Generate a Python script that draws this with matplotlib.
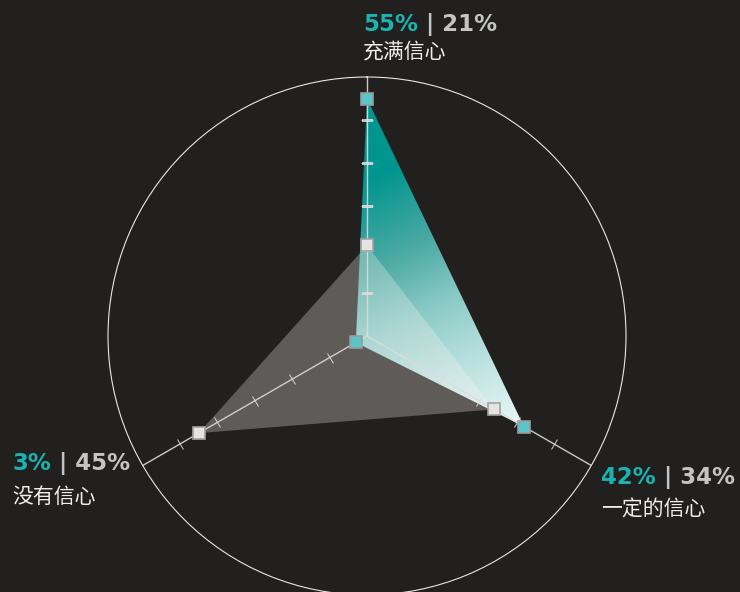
"""Radar chart: confidence levels, teal vs gray series."""

import numpy as np
import matplotlib
matplotlib.use("Agg")
import matplotlib.pyplot as plt
from matplotlib.colors import LinearSegmentedColormap
from matplotlib.image import AxesImage
from matplotlib.markers import MarkerStyle
from matplotlib.transforms import Affine2D


CATEGORIES = ["充满信心", "一定的信心", "没有信心"]
TEAL_VALUES = [55, 42, 3]
GRAY_VALUES = [21, 34, 45]
RADIAL_MAX = 60
TICK_VALUES = [10, 20, 30, 40, 50]

WIDTH, HEIGHT = 740, 592
BACKGROUND = "#21201f"
TEAL_TEXT = "#1bb3b2"
GRAY_TEXT = "#c4c4c4"
NAME_TEXT = "#eeeeee"
SPOKE = "#dcdcdc"
# x, value-row baseline, name-row baseline (pixels from top-left)
LABEL_ANCHORS = [(363, 31, 58), (601, 484, 516), (12, 470, 503)]


def fig_xy(x, y):
    return x / WIDTH, 1 - y / HEIGHT


def add_gradient(ax, angles, patch):
    # linear gradient running from the top vertex to the lower-right vertex
    to_axes = ax.transAxes.inverted()
    start = to_axes.transform(ax.transData.transform((angles[0], TEAL_VALUES[0])))
    end = to_axes.transform(ax.transData.transform((angles[1], TEAL_VALUES[1])))
    u, v = np.meshgrid(np.linspace(0, 1, 600), np.linspace(0, 1, 600))
    d = end - start
    t = ((u - start[0]) * d[0] + (v - start[1]) * d[1]) / (d @ d)
    cmap = LinearSegmentedColormap.from_list("teal_fade", [
        (0.0, "#00968f"),
        (0.2, "#00958f"),
        (0.42, "#4aa9a3"),
        (0.6, "#8ccbc7"),
        (0.77, "#b8e0de"),
        (0.95, "#e0f2f2"),
        (1.0, "#e8f6f6"),
    ])
    image = AxesImage(ax, cmap=cmap, origin="lower", extent=(0, 1, 0, 1),
                      interpolation="bilinear", zorder=2)
    image.set_transform(ax.transAxes)
    image.set_data(np.clip(t, 0, 1))
    image.set_clim(0, 1)
    ax.add_image(image)
    image.set_clip_path(patch)


def main():
    fig = plt.figure(figsize=(WIDTH / 100, HEIGHT / 100), dpi=100,
                     facecolor=BACKGROUND)
    cx, cy, radius = 367, 336, 259
    ax = fig.add_axes([(cx - radius) / WIDTH, (HEIGHT - cy - radius) / HEIGHT,
                       2 * radius / WIDTH, 2 * radius / HEIGHT],
                      projection="polar")
    ax.set_facecolor("none")
    ax.set_theta_zero_location("N")
    ax.set_theta_direction(-1)
    ax.set_ylim(0, RADIAL_MAX)
    ax.set_xticks([])
    ax.set_yticks([])
    ax.grid(False)
    ax.spines["polar"].set_color("#e6e6e6")
    ax.spines["polar"].set_linewidth(0.8)

    angles = np.arange(len(CATEGORIES)) * 2 * np.pi / len(CATEGORIES)

    teal_patch, = ax.fill(angles, TEAL_VALUES, facecolor="none",
                          edgecolor="none")
    add_gradient(ax, angles, teal_patch)
    ax.fill(angles, GRAY_VALUES, facecolor=(1.0, 0.96, 0.95), alpha=0.28,
            edgecolor="none", zorder=3)

    for angle in angles:
        ax.plot([angle, angle], [0, RADIAL_MAX], color=SPOKE, lw=1.0,
                alpha=0.9, zorder=4)
        tick = MarkerStyle(
            "_", transform=Affine2D().rotate_deg(180 - np.degrees(angle))
        )
        ax.plot(np.full(len(TICK_VALUES), angle), TICK_VALUES, linestyle="none",
                marker=tick, markersize=8, markeredgewidth=0.75,
                color=SPOKE, alpha=0.9, zorder=4)

    ax.plot(angles, GRAY_VALUES, linestyle="none", marker="s", markersize=9,
            markerfacecolor="#e4e4e4", markeredgecolor="#a3a3a3",
            markeredgewidth=1.2, zorder=5, clip_on=False)
    ax.plot(angles, TEAL_VALUES, linestyle="none", marker="s", markersize=9,
            markerfacecolor="#5ac6cb", markeredgecolor="#9a9a9a",
            markeredgewidth=1.2, zorder=5, clip_on=False)

    for name, teal, gray, (x, y_value, y_name) in zip(
        CATEGORIES, TEAL_VALUES, GRAY_VALUES, LABEL_ANCHORS
    ):
        first = fig.text(*fig_xy(x, y_value), f"{teal}%", color=TEAL_TEXT,
                         fontsize=16.5, fontweight="bold",
                         family="DejaVu Sans", va="baseline", ha="left")
        ax.annotate(f" | {gray}%", xy=(1, fig_xy(x, y_value)[1]),
                    xycoords=(first, "figure fraction"), color=GRAY_TEXT,
                    fontsize=16.5, fontweight="bold", family="DejaVu Sans",
                    va="baseline", ha="left", annotation_clip=False)
        fig.text(*fig_xy(x, y_name), name, color=NAME_TEXT, fontsize=15,
                 family=["Noto Sans CJK SC", "DejaVu Sans"],
                 va="baseline", ha="left")

    fig.savefig("out.png", dpi=100, facecolor=fig.get_facecolor())
    plt.close(fig)


if __name__ == "__main__":
    main()
